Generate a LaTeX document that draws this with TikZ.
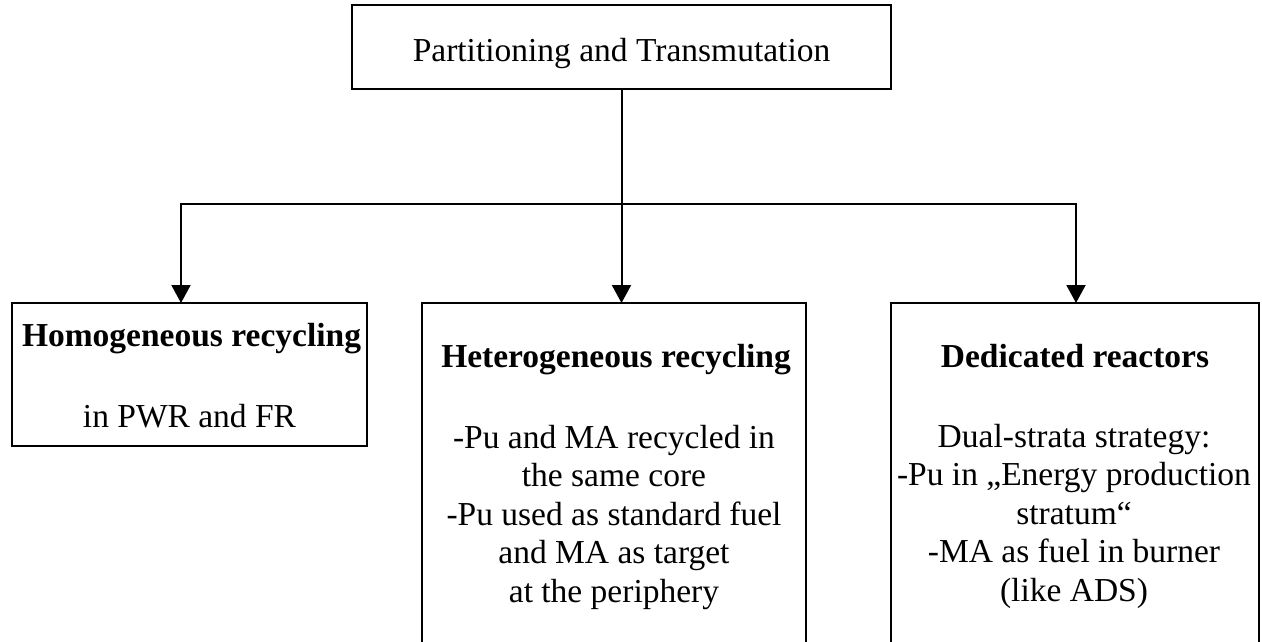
\documentclass[tikz,border=0pt]{standalone}
\usepackage{fontspec}
\setmainfont{Liberation Serif}
\usetikzlibrary{arrows.meta}
\begin{document}
\begin{tikzpicture}[x=1pt,y=-1pt,
  box/.style={draw,line width=2pt,inner sep=0pt,outer sep=0pt,anchor=north west},
  txt/.style={font=\fontsize{33.5}{38.5}\selectfont,inner sep=0pt,align=center},
  conn/.style={line width=2pt,line join=miter},
  arr/.style={conn,-{Triangle[length=18pt,width=19pt]}}]
\useasboundingbox (0,0) rectangle (1262,642);
% boxes
\node[box,minimum width=539pt,minimum height=84pt] (top) at (352,5) {};
\node[box,minimum width=355pt,minimum height=143pt] (left) at (12,303) {};
\node[box,minimum width=384pt,minimum height=400pt] (mid) at (422,303) {};
\node[box,minimum width=368pt,minimum height=400pt] (right) at (891,303) {};
% texts
\node[txt,anchor=base] (toptxt) at (621.5,62) {Partitioning and Transmutation};
\node[txt,anchor=base] (lefttitle) at (191.5,346) {\bfseries Homogeneous recycling};
\node[txt,anchor=base] (leftbody) at (189.5,427) {in PWR and FR};
\node[txt,anchor=base] (midtitle) at (616,367) {\bfseries Heterogeneous recycling};
\node[txt,anchor=north] (midbody) at (614,418) {\rule{0pt}{30pt}-Pu and MA recycled in\\
the same core\\
-Pu used as standard fuel\\
and MA as target\\
at the periphery};
\node[txt,anchor=base] (righttitle) at (1075,367) {\bfseries Dedicated reactors};
\node[txt,anchor=north] (rightbody) at (1074,417) {\rule{0pt}{30pt}Dual-strata strategy:\\
-Pu in „Energy production\\
stratum“\\
-MA as fuel in burner\\
(like ADS)};
% connectors
\coordinate (jm) at (621.5,204);
\coordinate (jl) at (181,204);
\coordinate (jr) at (1076,204);
\draw[conn] (top.south -| jm) -- (jm);
\draw[arr] (jm) -- (jl) -- (jl |- left.north);
\draw[arr] (jm) -- (jr) -- (jr |- right.north);
\draw[arr] (jm) -- (jm |- mid.north);
\end{tikzpicture}
\end{document}
